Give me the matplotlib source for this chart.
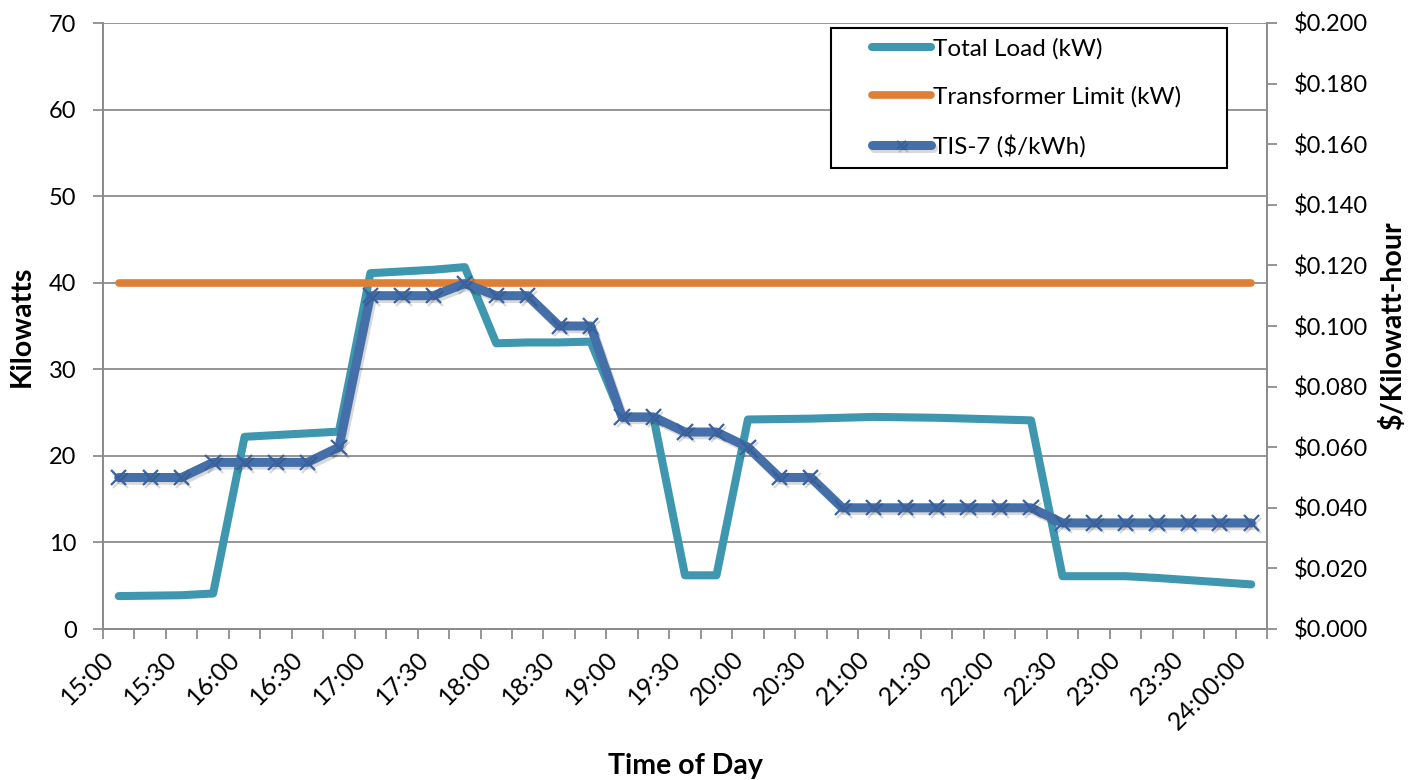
import matplotlib
matplotlib.use("Agg")
import matplotlib.pyplot as plt
import matplotlib.patheffects as pe
from matplotlib.legend_handler import HandlerLine2D
from matplotlib.transforms import ScaledTranslation
import numpy as np

plt.rcParams['font.family'] = ['Lato', 'DejaVu Sans']

categories = ["15:00", "15:15", "15:30", "15:45", "16:00", "16:15", "16:30", "16:45",
              "17:00", "17:15", "17:30", "17:45", "18:00", "18:15", "18:30", "18:45",
              "19:00", "19:15", "19:30", "19:45", "20:00", "20:15", "20:30", "20:45",
              "21:00", "21:15", "21:30", "21:45", "22:00", "22:15", "22:30", "22:45",
              "23:00", "23:15", "23:30", "23:45", "24:00:00"]

total_load_kw = [3.8, 3.85, 3.9, 4.1, 22.2, 22.4, 22.6, 22.8,
                 41.1, 41.3, 41.5, 41.8, 33.0, 33.1, 33.1, 33.2,
                 24.4, 24.4, 6.2, 6.2, 24.2, 24.25, 24.3, 24.4,
                 24.5, 24.45, 24.4, 24.3, 24.2, 24.1, 6.1, 6.1,
                 6.1, 5.9, 5.65, 5.4, 5.15]

transformer_limit_kw = [40, 40, 40, 40, 40, 40, 40, 40, 40, 40, 40, 40, 40, 40, 40, 40,
                        40, 40, 40, 40, 40, 40, 40, 40, 40, 40, 40, 40, 40, 40, 40, 40,
                        40, 40, 40, 40, 40]

tis7_price = [0.050, 0.050, 0.050, 0.055, 0.055, 0.055, 0.055, 0.060,
              0.110, 0.110, 0.110, 0.114, 0.110, 0.110, 0.100, 0.100,
              0.070, 0.070, 0.065, 0.065, 0.060, 0.050, 0.050, 0.040,
              0.040, 0.040, 0.040, 0.040, 0.040, 0.040, 0.035, 0.035,
              0.035, 0.035, 0.035, 0.035, 0.035]

left_ticks = [0, 10, 20, 30, 40, 50, 60, 70]
right_ticks = [0.000, 0.020, 0.040, 0.060, 0.080, 0.100, 0.120, 0.140, 0.160, 0.180, 0.200]

C_LOAD = '#3E97AE'
C_LIMIT = '#DE7F35'
C_TIS = '#446FA8'
C_GRID = '#8C8C8C'
FS = 17
FS_X = 18
FS_LEG = 17.5
FS_LAB = 20.5

fig = plt.figure(figsize=(14.12, 7.80), dpi=100)
ax = fig.add_axes([103/1412, 1-629/780, (1267-103)/1412, (629-23)/780])
ax2 = ax.twinx()

x = np.arange(len(categories))

l1, = ax.plot(x, total_load_kw, color=C_LOAD, lw=5.8, solid_capstyle='round',
              solid_joinstyle='round', zorder=3, label='Total Load (kW)')
l2, = ax.plot(x, transformer_limit_kw, color=C_LIMIT, lw=5.5, solid_capstyle='round',
              solid_joinstyle='round', zorder=4, label='Transformer Limit (kW)')
l3, = ax2.plot(x, tis7_price, color=C_TIS, lw=6.5, solid_capstyle='round',
               solid_joinstyle='round', marker='x', markersize=11, markeredgewidth=1.6,
               markeredgecolor='#3A62A0', zorder=5, label='TIS-7 ($/kWh)',
               path_effects=[pe.SimpleLineShadow(offset=(1.5, -2), alpha=0.15, shadow_color='black'),
                             pe.Normal()])

ax.set_xlim(-0.5, len(categories) - 0.5)
ax.set_ylim(0, 70)
ax2.set_ylim(0, 0.2)

ax.set_yticks(left_ticks)
ax.set_yticklabels([str(v) for v in left_ticks])
ax2.set_yticks(right_ticks)
ax2.set_yticklabels(['${:.3f}'.format(v) for v in right_ticks])

# x ticks: marks at category boundaries, labels every other category
ax.set_xticks(np.arange(-0.5, len(categories), 1.0))
ax.set_xticklabels([])
ax.set_xticks(x[::2], minor=True)
ax.set_xticklabels([categories[i] for i in x[::2]], minor=True,
                   rotation=45, ha='right', va='top')
offset = ScaledTranslation(8/100, 0, fig.dpi_scale_trans)
for t in ax.get_xticklabels(minor=True):
    t.set_transform(t.get_transform() + offset)

ax.tick_params(axis='x', which='major', length=7, width=1.3, color=C_GRID, direction='out')
ax.tick_params(axis='x', which='minor', length=0, pad=13, labelsize=FS_X)
ax.tick_params(axis='y', which='major', length=7, width=1.3, color=C_GRID, pad=12, labelsize=FS)
ax2.tick_params(axis='y', which='major', length=7, width=1.3, color=C_GRID, pad=12, labelsize=FS)

ax.grid(axis='y', color=C_GRID, lw=1.3)
ax.set_axisbelow(True)
for a in (ax, ax2):
    for s in a.spines.values():
        s.set_color(C_GRID)
        s.set_linewidth(1.3)
    a.spines['top'].set_visible(False)

ax.set_ylabel('Kilowatts', fontsize=FS_LAB, fontweight='bold', labelpad=10)
ax2.set_ylabel('$/Kilowatt-hour', fontsize=FS_LAB, fontweight='bold', labelpad=8)
ax.set_xlabel('Time of Day', fontsize=FS_LAB, fontweight='bold')
ax.xaxis.set_label_coords(0.5, -0.205)

# legend
x0 = (831 - 103) / 1164
w = (1227 - 831) / 1164
y1 = (629 - 28) / 606
hmap = {l: HandlerLine2D(xpad=1.25, numpoints=1) for l in (l1, l2, l3)}
leg = ax2.legend(handles=[l1, l2, l3], loc='upper left',
                 bbox_to_anchor=(x0, y1 - 0.3, w, 0.3), mode='expand',
                 borderaxespad=0, fontsize=FS_LEG, frameon=True, fancybox=False,
                 edgecolor='black', framealpha=1, borderpad=0.42,
                 handlelength=3.7, handletextpad=0.08, labelspacing=1.1,
                 handler_map=hmap)
leg.get_frame().set_linewidth(1.5)
for h in leg.legend_handles:
    h.set_markersize(6)

fig.savefig('out.png', dpi=100)
